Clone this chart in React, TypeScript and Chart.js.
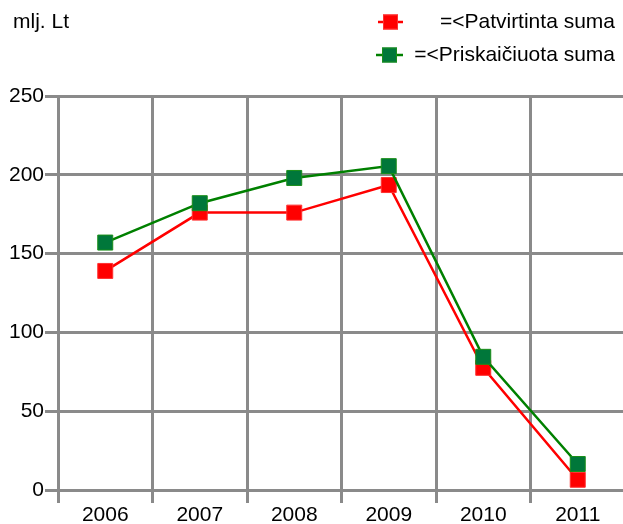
import React, { useEffect, useRef } from "react";
import { Chart, registerables } from "chart.js";

Chart.register(...registerables);

const years = ["2006", "2007", "2008", "2009", "2010", "2011"];
const patvirtinta = [139, 176, 176, 193.5, 77.5, 6.5];
const priskaiciuota = [157, 182, 198, 205.5, 84.5, 16.5];
const yTicks = [0, 50, 100, 150, 200, 250];
const unitLabel = "mlj. Lt";
const seriesNames = ["=<Patvirtinta suma", "=<Priskaičiuota suma"];

const FONT = "'Liberation Sans', Arial, sans-serif";
const GRID = "#8a8a8a";

const legendPlugin = {
  id: "customLegend",
  afterDraw(chart: any) {
    const ctx = chart.ctx;
    ctx.save();
    ctx.font = `21px ${FONT}`;
    ctx.fillStyle = "#000";
    ctx.textBaseline = "middle";
    ctx.textAlign = "left";
    ctx.fillText(unitLabel, 13, 22);
    const items = [
      { y: 22, x0: 378, x1: 403, line: "#ff0000", fill: "#ff0000", border: "#ff3030", text: seriesNames[0] },
      { y: 55, x0: 376, x1: 403, line: "#008000", fill: "#00773a", border: "#1a8f1a", text: seriesNames[1] },
    ];
    for (const it of items) {
      ctx.strokeStyle = it.line;
      ctx.lineWidth = 2.5;
      ctx.beginPath();
      ctx.moveTo(it.x0, it.y);
      ctx.lineTo(it.x1, it.y);
      ctx.stroke();
      const cx = (it.x0 + it.x1) / 2;
      ctx.fillStyle = it.fill;
      ctx.fillRect(cx - 7.5, it.y - 7.5, 15, 15);
      ctx.strokeStyle = it.border;
      ctx.lineWidth = 1;
      ctx.strokeRect(cx - 7, it.y - 7, 14, 14);
      ctx.fillStyle = "#000";
      ctx.textAlign = "right";
      ctx.fillText(it.text, 615, it.y);
    }
    ctx.restore();
  },
};

export default function App() {
  const ref = useRef<HTMLCanvasElement | null>(null);
  useEffect(() => {
    if (!ref.current) return;
    const chart = new Chart(ref.current, {
      type: "line",
      data: {
        labels: years,
        datasets: [
          {
            label: seriesNames[0],
            data: patvirtinta,
            borderColor: "#ff0000",
            backgroundColor: "#ff0000",
            pointBackgroundColor: "#ff0000",
            pointBorderColor: "#ff3030",
            pointBorderWidth: 1,
            pointStyle: "rect",
            pointRadius: 10.6,
            borderWidth: 2.5,
            tension: 0,
            order: 2,
          },
          {
            label: seriesNames[1],
            data: priskaiciuota,
            borderColor: "#008000",
            backgroundColor: "#00773a",
            pointBackgroundColor: "#00773a",
            pointBorderColor: "#1a8f1a",
            pointBorderWidth: 1,
            pointStyle: "rect",
            pointRadius: 10.6,
            borderWidth: 2.5,
            tension: 0,
            order: 1,
          },
        ],
      },
      options: {
        responsive: false,
        animation: false,
        layout: { autoPadding: false, padding: { top: 96, right: 2, left: 0, bottom: 0 } },
        plugins: { legend: { display: false }, tooltip: { enabled: false } },
        scales: {
          x: {
            type: "category",
            offset: true,
            grid: {
              offset: true,
              color: GRID,
              lineWidth: 3,
              tickLength: 13,
              drawTicks: true,
            },
            border: { color: GRID, width: 3 },
            ticks: {
              color: "#000",
              font: { family: FONT, size: 21 },
              padding: 0,
              maxRotation: 0,
            },
            afterFit(scale: any) {
              scale.height = 34;
              scale.paddingLeft = 0;
              scale.paddingRight = 0;
            },
          },
          y: {
            min: 0,
            max: 250,
            afterBuildTicks(scale: any) {
              scale.ticks = yTicks.map((v) => ({ value: v }));
            },
            grid: { color: GRID, lineWidth: 3, tickLength: 13, drawTicks: true },
            border: { color: GRID, width: 3 },
            ticks: {
              color: "#000",
              font: { family: FONT, size: 21 },
              padding: 1,
            },
            afterFit(scale: any) {
              scale.width = 58;
              scale.paddingTop = 0;
              scale.paddingBottom = 0;
            },
          },
        },
      },
      plugins: [legendPlugin],
    });
    return () => chart.destroy();
  }, []);
  return (
    <div
      style={{
        position: "absolute",
        left: 0,
        top: 0,
        width: 623,
        height: 524,
        overflow: "hidden",
        background: "#fff",
      }}
    >
      <canvas ref={ref} width={627} height={524} style={{ display: "block" }} />
    </div>
  );
}
